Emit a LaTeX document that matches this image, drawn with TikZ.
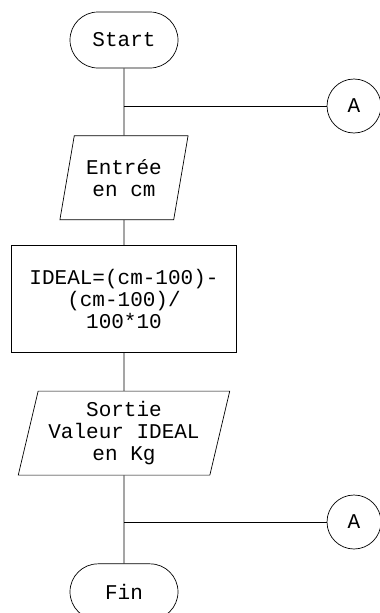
\documentclass[tikz,border=0pt]{standalone}
\usepackage{fontspec}
\setmonofont{Liberation Mono}
\usetikzlibrary{positioning,shapes.geometric}

\begin{document}
\begin{tikzpicture}[x=1pt, y=1pt, line width=0.7pt,
    font=\ttfamily\fontsize{21}{22}\selectfont,
    term/.style={draw, rounded corners=28pt, minimum width=108pt, minimum height=56pt},
    io/.style={draw, trapezium, trapezium left angle=76, trapezium right angle=104,
      trapezium stretches=true, minimum height=84pt, align=center, inner xsep=0pt},
    proc/.style={draw, minimum width=225pt, minimum height=107pt, align=center},
    conn/.style={draw, circle, minimum size=54pt, inner sep=0pt}]
    \useasboundingbox (0,0) rectangle (380,-613);

    % Main column
    \node (start) [term] at (124,-40) {Start};
    \node (inp) [io, minimum width=129pt, below=67pt of start] {Entrée\\en cm};
    \node (ideal) [proc, below=25pt of inp] {IDEAL=(cm-100)-\\(cm-100)/\\100*10};
    \node (out) [io, minimum width=212pt, below=38pt of ideal] {Sortie\\Valeur IDEAL\\en Kg};
    \node (fin) [term, below=88pt of out] {Fin};

    % Connectors A on the right
    \node (conA1) [conn] at (354,-106) {A};
    \node (conA2) [conn] at (354,-522) {A};
    \coordinate (j1) at (start.south |- conA1);
    \coordinate (j2) at (out.south |- conA2);

    \draw (start) -- (inp);
    \draw (j1) -- (conA1);
    \draw (inp) -- (ideal);
    \draw (ideal) -- (out);
    \draw (out) -- (fin);
    \draw (j2) -- (conA2);
\end{tikzpicture}
\end{document}
